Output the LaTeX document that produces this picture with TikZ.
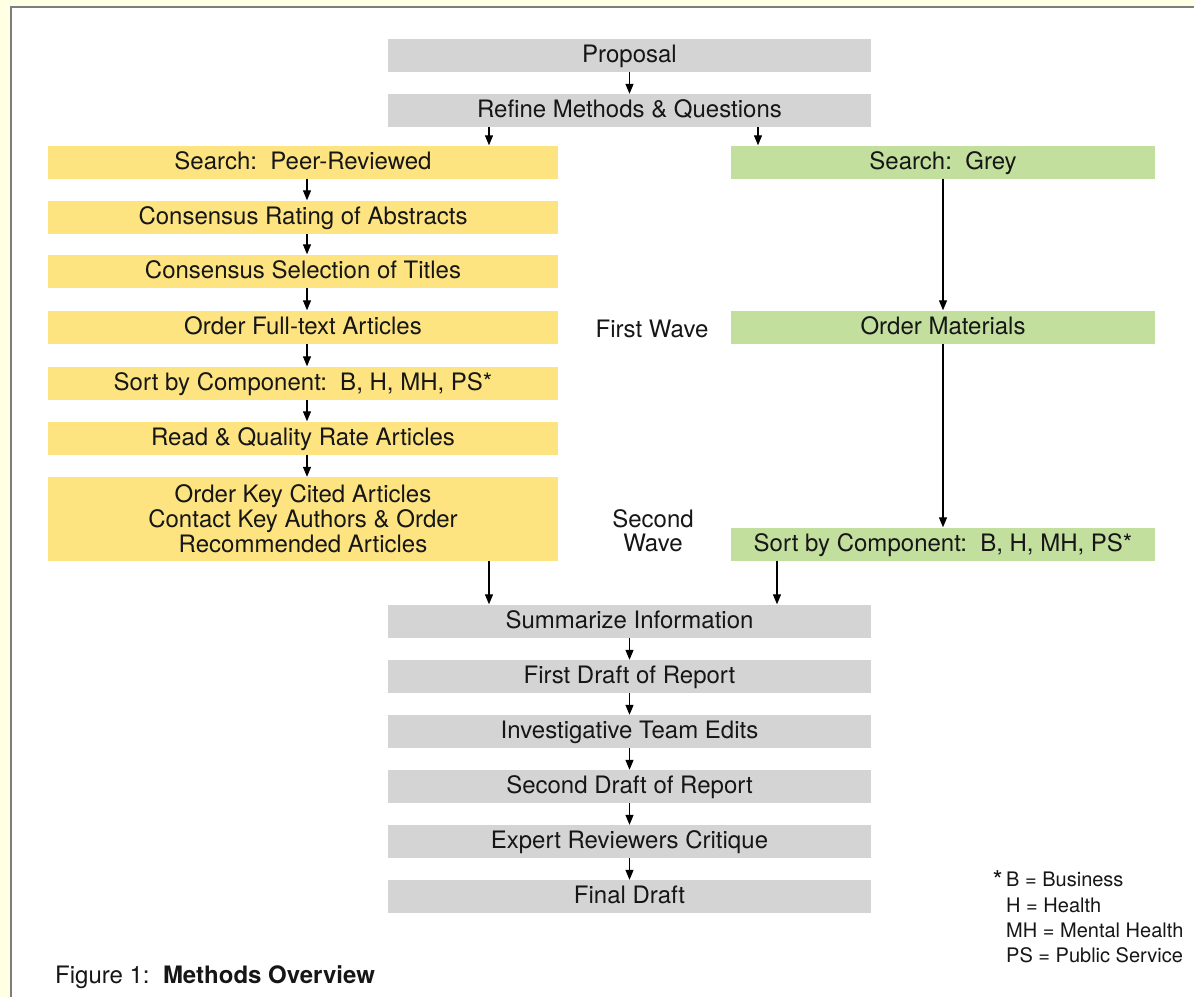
\documentclass[tikz,border=0pt]{standalone}
\usepackage{fontspec}
\setmainfont{TeX Gyre Heros}
\usetikzlibrary{arrows.meta}
\definecolor{boxgray}{RGB}{212,212,212}
\definecolor{boxyellow}{RGB}{253,228,128}
\definecolor{boxgreen}{RGB}{195,223,158}
\definecolor{outerbg}{RGB}{255,255,228}
\definecolor{framecol}{RGB}{125,125,125}
\definecolor{ink}{RGB}{22,22,22}
\begin{document}
\begin{tikzpicture}[x=1pt,y=-1pt,
  box/.style={rectangle, inner sep=0pt, minimum height=33pt, text=ink,
    font=\fontsize{24}{25}\selectfont, align=center},
  one/.style={text height=18pt, text depth=4pt},
  gbox/.style={box, one, fill=boxgray, minimum width=483pt},
  ybox/.style={box, fill=boxyellow, minimum width=510pt},
  grbox/.style={box, one, fill=boxgreen, minimum width=424pt},
  arr/.style={draw=black, line width=1.2pt, -{Triangle[length=10pt,width=8pt]}},
  lbl/.style={text=ink, font=\fontsize{24}{24}\selectfont, align=center, inner sep=0pt},
  leg/.style={text=ink, font=\fontsize{20}{20}\selectfont, inner sep=0pt, anchor=base west}]
\useasboundingbox (0,0) rectangle (1194,997);
\fill[outerbg] (0,0) rectangle (1194,997);
\fill[white] (11,7) rectangle (1194,997);
\draw[framecol, line width=2pt] (11,997) -- (11,7) -- (1194,7);

% gray column
\node[gbox] (prop) at (629.5,55.5) {Proposal};
\node[gbox] (refine) at (629.5,110.5) {Refine Methods \& Questions};
\node[gbox] (summ) at (629.5,621) {Summarize Information};
\node[gbox] (draft1) at (629.5,676.5) {First Draft of Report};
\node[gbox] (edits) at (629.5,731.5) {Investigative Team Edits};
\node[gbox] (draft2) at (629.5,786.5) {Second Draft of Report};
\node[gbox] (expert) at (629.5,841.5) {Expert Reviewers Critique};
\node[gbox] (final) at (629.5,896.5) {Final Draft};

% yellow column
\node[ybox, one] (y1) at (303,162) {Search:\ \ Peer-Reviewed};
\node[ybox, one] (y2) at (303,217) {Consensus Rating of Abstracts};
\node[ybox, one] (y3) at (303,271) {Consensus Selection of Titles};
\node[ybox, one] (y4) at (303,327) {Order Full-text Articles};
\node[ybox, one] (y5) at (303,383) {Sort by Component:\ \ B, H, MH, PS*};
\node[ybox, one] (y6) at (303,438) {Read \& Quality Rate Articles};
\node[ybox, minimum height=84pt] (y7) at (303,519) {Order Key Cited Articles\\Contact Key Authors \& Order\\Recommended Articles};

% green column
\node[grbox] (g1) at (943,162) {Search:\ \ Grey};
\node[grbox] (g2) at (943,327) {Order Materials};
\node[grbox] (g3) at (943,544) {Sort by Component:\ \ B, H, MH, PS*};

% labels
\node[lbl] (fw) at (652,329) {First Wave};
\node[lbl] (sw) at (653,531) {Second\\Wave};

% legend
\node[leg, anchor=base east, font=\fontsize{26}{26}\selectfont] (ast) at (1003,889) {*};
\node[leg] (l1) at (1006,886) {B = Business};
\node[leg] (l2) at (1006,912) {H = Health};
\node[leg] (l3) at (1006,937) {MH = Mental Health};
\node[leg] (l4) at (1006,962) {PS = Public Service};

% caption
\node[lbl, anchor=base west] (cap) at (55,983) {Figure 1:\ \ \textbf{Methods Overview}};

% coordinates for arrow columns
\coordinate (cl) at (489,0);
\coordinate (cr) at (758,0);
\coordinate (cr2) at (777,0);
\coordinate (ya) at (307,0);

% arrows
\draw[arr] (prop.south) -- (refine.north);
\draw[arr] (refine.south -| cl) -- (y1.north -| cl);
\draw[arr] (refine.south -| cr) -- (g1.north -| cr);
\draw[arr] (y1.south -| ya) -- (y2.north -| ya);
\draw[arr] (y2.south -| ya) -- (y3.north -| ya);
\draw[arr] (y3.south -| ya) -- (y4.north -| ya);
\draw[arr] (y4.south -| ya) -- (y5.north -| ya);
\draw[arr] (y5.south -| ya) -- (y6.north -| ya);
\draw[arr] (y6.south -| ya) -- (y7.north -| ya);
\draw[arr] (g1.south) -- (g2.north);
\draw[arr] (g2.south) -- (g3.north);
\draw[arr] (y7.south -| cl) -- (summ.north -| cl);
\draw[arr] (g3.south -| cr2) -- (summ.north -| cr2);
\draw[arr] (summ.south) -- (draft1.north);
\draw[arr] (draft1.south) -- (edits.north);
\draw[arr] (edits.south) -- (draft2.north);
\draw[arr] (draft2.south) -- (expert.north);
\draw[arr] (expert.south) -- (final.north);
\end{tikzpicture}
\end{document}
